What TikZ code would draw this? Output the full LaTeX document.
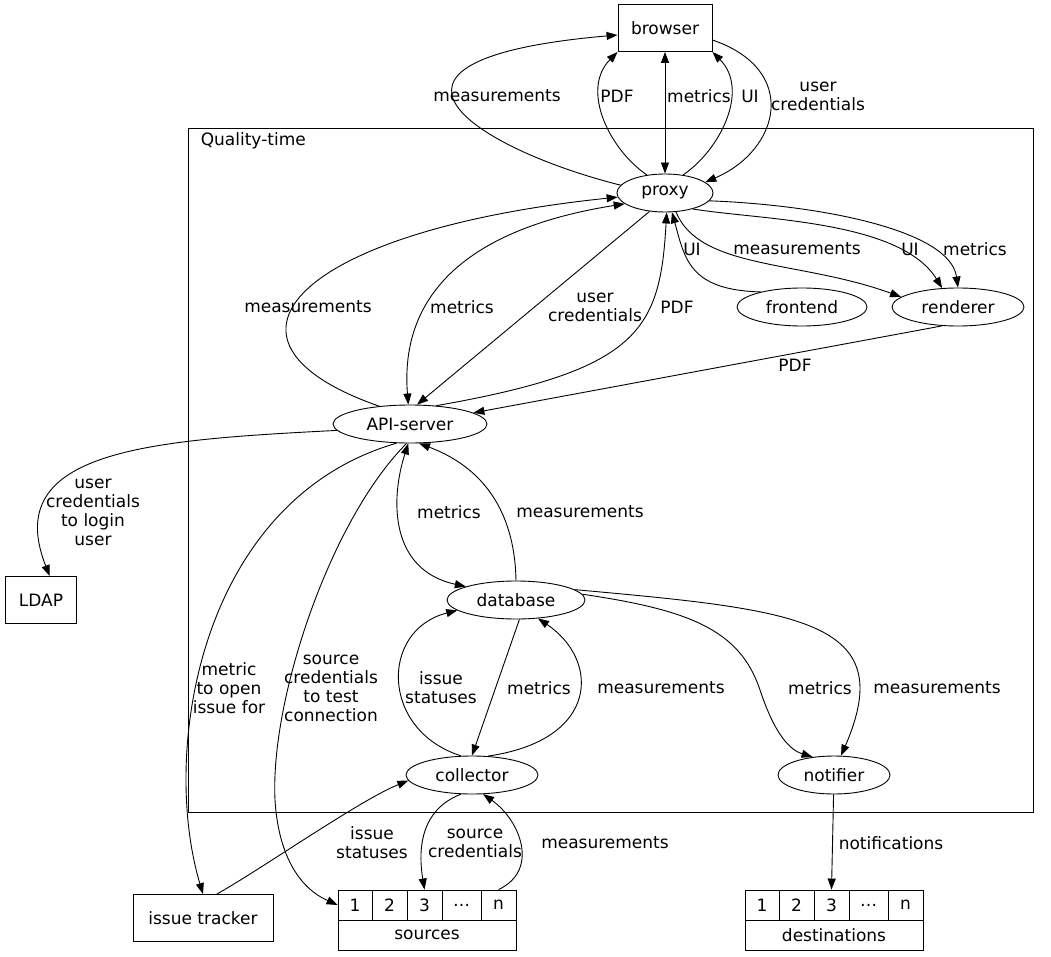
\documentclass[tikz,border=0pt]{standalone}
\usepackage{fontspec}
\setmainfont{DejaVu Sans}
\usetikzlibrary{arrows.meta,shapes.geometric}
\tikzset{
  box/.style = {draw, rectangle, minimum height=47pt, inner xsep=8pt},
  oval/.style = {draw, ellipse, minimum height=38pt, inner xsep=4pt},
  cell/.style = {draw, rectangle, minimum height=30pt, inner sep=0pt},
  lbl/.style = {align=center, inner sep=1pt},
  tip/.style = {-{Triangle[length=11pt,width=8pt]}},
  both/.style = {{Triangle[length=11pt,width=8pt]}-{Triangle[length=11pt,width=8pt]}}
}
\begin{document}
\begin{tikzpicture}[x=1pt, y=-1pt, line width=0.9pt, font=\fontsize{17}{19}\selectfont]
  \useasboundingbox (0,0) rectangle (1051,957);
  % cluster
  \draw (188,128) rectangle (1033,812);
  \node[anchor=west] (qt) at (197,141) {Quality-time};
  % nodes
  \node[box, minimum width=94pt] (browser) at (665,28) {browser};
  \node[oval, minimum width=96pt] (proxy) at (665,193) {proxy};
  \node[oval, minimum width=130pt] (frontend) at (802,307) {frontend};
  \node[oval, minimum width=132pt] (renderer) at (958,307) {renderer};
  \node[oval, minimum width=154pt] (api) at (410,424) {API-server};
  \node[box, minimum width=71pt] (ldap) at (41,600) {LDAP};
  \node[oval, minimum width=138pt] (database) at (516,600) {database};
  \node[oval, minimum width=132pt] (collector) at (472,775) {collector};
  \node[oval, minimum width=112pt] (notifier) at (834,775) {notifier};
  \node[box, minimum width=140pt] (tracker) at (203,918) {issue tracker};
  % sources record
  \foreach \n/\t/\x/\w in {1/1/355/34, 2/2/389.5/35, 3/3/424.5/35, 4/\dots/461.5/39, 5/n/498.5/35} {
    \node[cell, minimum width=\w pt] (s\n) at (\x,905) {\t};
  }
  \node[cell, minimum width=178pt] (sources) at (427,935) {sources};
  % destinations record
  \foreach \n/\t/\x/\w in {1/1/762/34, 2/2/796.5/35, 3/3/831.5/35, 4/\dots/868.5/39, 5/n/905.5/35} {
    \node[cell, minimum width=\w pt] (d\n) at (\x,905) {\t};
  }
  \node[cell, minimum width=178pt] (destinations) at (834,935) {destinations};
  % browser <-> proxy
  \draw[tip] (proxy.170) .. controls (480,150) and (330,60) .. (browser.west |- 0,35);
  \node[lbl] (l1) at (497,96) {measurements};
  \draw[tip] (proxy.135) .. controls (610,150) and (580,90) .. (browser.south west);
  \node[lbl] (l2) at (617,96) {PDF};
  \draw[both] (browser) -- (proxy);
  \node[lbl] (l3) at (699,96) {metrics};
  \draw[tip] (proxy.45) .. controls (720,150) and (750,90) .. (browser.south east);
  \node[lbl] (l4) at (750,96) {UI};
  \draw[tip] (browser.east |- 0,40) .. controls (800,70) and (780,150) .. (proxy.15);
  \node[lbl] (l5) at (818,96) {user\\credentials};
  % proxy <-> api
  \draw[tip] (api.150) .. controls (190,340) and (300,230) .. (proxy.185);
  \node[lbl] (l6) at (308,307) {measurements};
  \draw[both] (proxy.195) .. controls (460,230) and (400,300) .. (api.95);
  \node[lbl] (l7) at (462,307) {metrics};
  \draw[tip] (proxy.230) -- (api.70);
  \node[lbl] (l8) at (595,307) {user\\credentials};
  \draw[tip] (api.35) .. controls (640,370) and (660,330) .. (proxy.275);
  \node[lbl] (l9) at (677,307) {PDF};
  \draw[tip] (frontend.160) .. controls (690,290) and (685,260) .. (proxy.290);
  \node[lbl] (l10) at (692,249) {UI};
  \draw[tip] (proxy.300) .. controls (700,270) and (800,260) .. (renderer.170);
  \node[lbl] (l11) at (797,249) {measurements};
  \draw[tip] (proxy.330) .. controls (760,220) and (900,220) .. (renderer.130);
  \node[lbl] (l12) at (910,249) {UI};
  \draw[tip] (proxy.350) .. controls (820,205) and (950,230) .. (renderer.north);
  \node[lbl] (l13) at (975,249) {metrics};
  \draw[tip] (renderer.230) -- (api.10);
  \node[lbl] (l14) at (795,365) {PDF};
  % api <-> others
  \draw[tip] (api.185) .. controls (150,440) and (0,450) .. (ldap.70);
  \node[lbl] (l15) at (93,512) {user\\credentials\\to login\\user};
  \draw[both] (api.265) .. controls (390,500) and (390,570) .. (database.165);
  \node[lbl] (l16) at (449,512) {metrics};
  \draw[tip] (database.north) .. controls (515,520) and (490,470) .. (api.295);
  \node[lbl] (l17) at (580,512) {measurements};
  \draw[tip] (api.235) .. controls (200,500) and (160,750) .. (tracker.north);
  \node[lbl] (l18) at (229,688) {metric\\to open\\issue for};
  \draw[tip] (api.260) .. controls (330,520) and (270,700) .. (275,800) .. controls (280,880) and (320,897) .. (s1.west);
  \node[lbl] (l19) at (331,688) {source\\credentials\\to test\\connection};
  % database <-> collector
  \draw[tip] (database.280) -- (collector.north);
  \node[lbl] (l20) at (539,688) {metrics};
  \draw[tip] (collector.120) .. controls (380,730) and (380,630) .. (database.190);
  \node[lbl] (l21) at (441,688) {issue\\statuses};
  \draw[tip] (collector.50) .. controls (600,740) and (600,660) .. (database.320);
  \node[lbl] (l22) at (661,688) {measurements};
  % database -> notifier
  \draw[tip] (database.5) .. controls (690,610) and (740,630) .. (760,690) .. controls (775,735) and (790,750) .. (notifier.140);
  \node[lbl] (l23) at (820,688) {metrics};
  \draw[tip] (database.10) .. controls (800,610) and (900,620) .. (notifier.70);
  \node[lbl] (l24) at (937,688) {measurements};
  \draw[tip] (notifier) -- (d3.north);
  \node[lbl] (l25) at (891,843) {notifications};
  % collector <-> externals
  \draw[tip] (tracker.60) .. controls (260,870) and (360,800) .. (collector.185);
  \node[lbl] (l26) at (372,843) {issue\\statuses};
  \draw[tip] (collector.240) .. controls (420,810) and (418,850) .. (s3.north);
  \node[lbl] (l27) at (475,843) {source\\credentials};
  \draw[tip] (s5.north) .. controls (540,870) and (520,820) .. (collector.300);
  \node[lbl] (l28) at (605,843) {measurements};
\end{tikzpicture}
\end{document}
